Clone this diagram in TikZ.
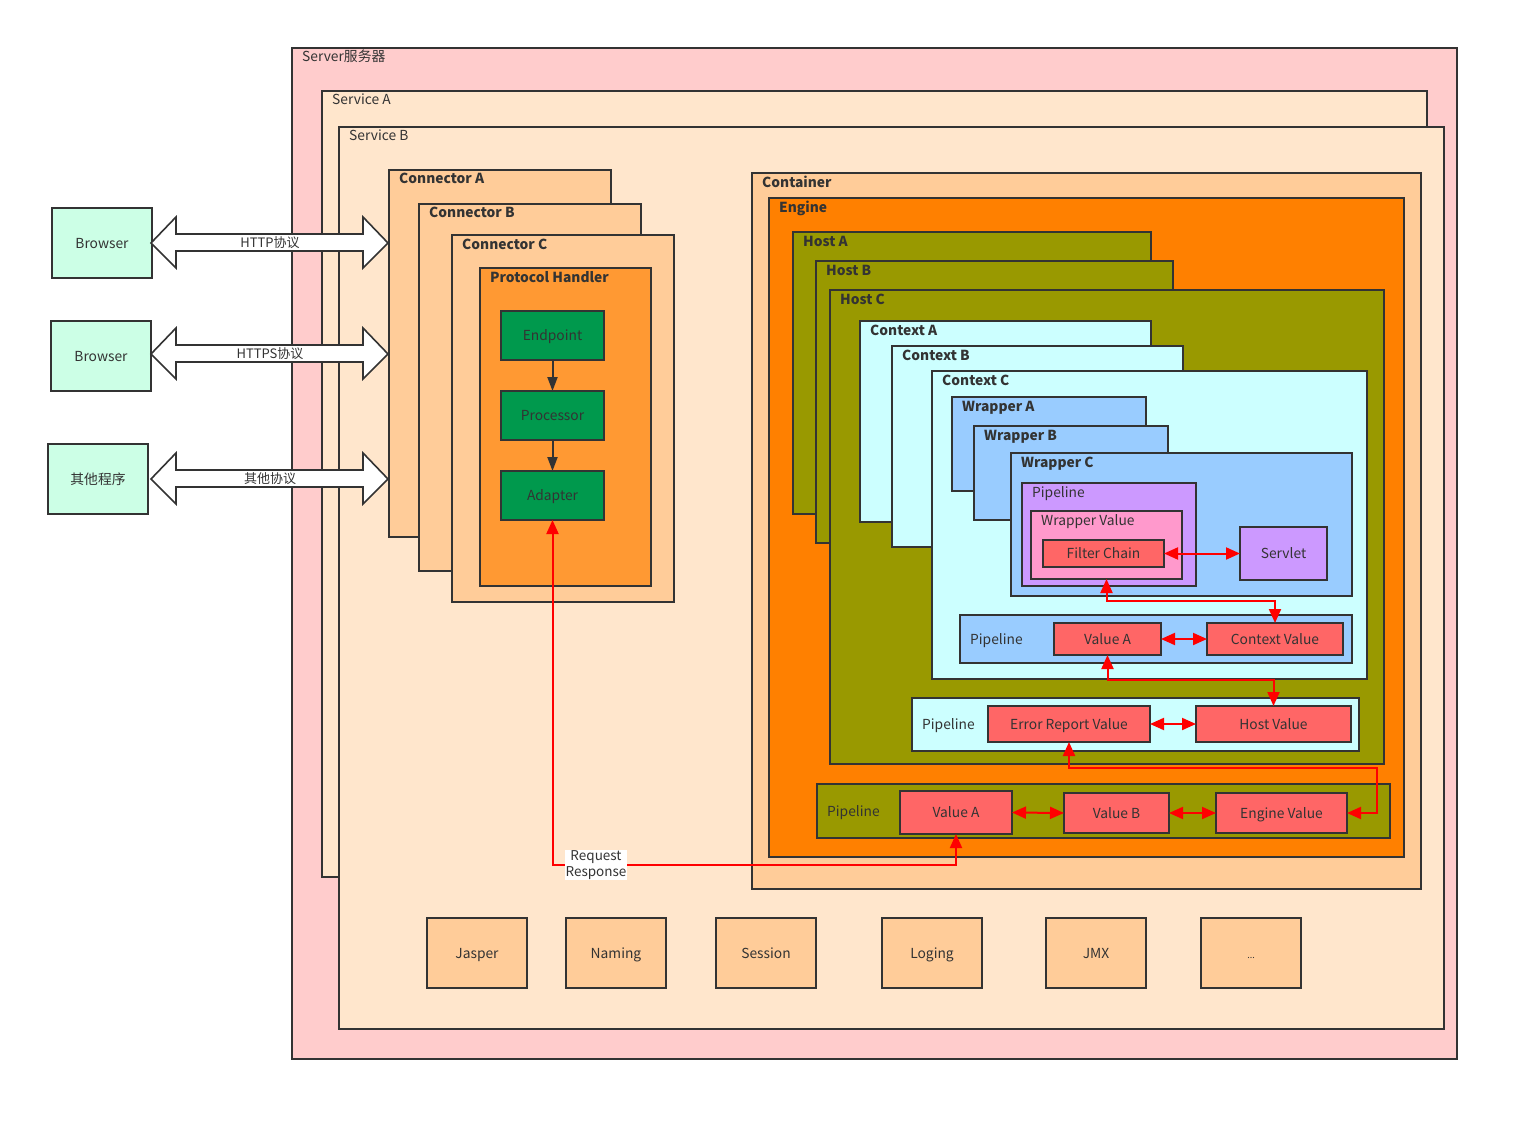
\documentclass[tikz,border=0pt]{standalone}
\usepackage{fontspec}
\setmainfont{Noto Sans CJK SC}
\usetikzlibrary{arrows.meta}
\definecolor{dk}{HTML}{333333}
\definecolor{cServer}{HTML}{FFCCCC}
\definecolor{cService}{HTML}{FFE6CC}
\definecolor{cConn}{HTML}{FFCC99}
\definecolor{cProto}{HTML}{FF9933}
\definecolor{cGreen}{HTML}{00994D}
\definecolor{cBrowser}{HTML}{CCFFE6}
\definecolor{cEngine}{HTML}{FF8000}
\definecolor{cHost}{HTML}{999900}
\definecolor{cCtx}{HTML}{CCFFFF}
\definecolor{cWrap}{HTML}{99CCFF}
\definecolor{cPurple}{HTML}{CC99FF}
\definecolor{cPink}{HTML}{FF99CC}
\definecolor{cRed}{HTML}{FF6666}
\definecolor{cLine}{HTML}{FF0000}
\tikzset{
  frame/.style={draw=dk,line width=1.9pt,inner sep=0pt,outer sep=0pt},
  nrm/.style={font=\fontsize{13.8}{16}\selectfont,text=dk,inner sep=0pt},
  bld/.style={font=\fontsize{13.8}{16}\selectfont\bfseries,text=dk,inner sep=0pt},
  ctr/.style={font=\fontsize{13.8}{16}\selectfont,text=dk,text height=10pt,text depth=0pt},
  redarr/.style={draw=cLine,line width=2pt,{Triangle[length=14pt,width=12pt]}-{Triangle[length=14pt,width=12pt]}},
  grayarr/.style={draw=dk,line width=2pt,-{Triangle[length=14pt,width=10pt]}},
  bigarr/.style={draw=dk,line width=1.6pt,fill=white,line join=miter},
}
% name, fill, x1, y1, x2, y2, label style, label
\newcommand\myframe[8]{%
  \node[frame,fill=#2,anchor=north west,minimum width={#5-#3},minimum height={#6-#4}] (#1) at (#3,#4) {};
  \node[#7,anchor=base west] (#1-t) at ([xshift=10pt,yshift=-14pt]#1.north west) {#8};}
% name, fill, x1, y1, x2, y2, text
\newcommand\mybox[7]{%
  \node[frame,ctr,fill=#2,anchor=north west,minimum width={#5-#3},minimum height={#6-#4}] (#1) at (#3,#4) {#7};}
% pipeline with left centred label
\newcommand\mypipe[6]{%
  \node[frame,fill=#2,anchor=north west,minimum width={#5-#3},minimum height={#6-#4}] (#1) at (#3,#4) {};
  \node[nrm,anchor=west,text height=10pt,text depth=0pt] (#1-t) at ([xshift=10pt]#1.west) {Pipeline};}
\begin{document}
\begin{tikzpicture}[x=1pt,y=-1pt]
\useasboundingbox[fill=white] (0,0) rectangle (1519,1121);
% outer
\myframe{server}{cServer}{292}{48}{1457}{1059}{nrm}{Server服务器}
\myframe{svA}{cService}{322}{91}{1427}{877}{nrm}{Service A}
\myframe{svB}{cService}{339}{127}{1444}{1029}{nrm}{Service B}
% browsers
\mybox{b1}{cBrowser}{52}{208}{152}{278}{Browser}
\mybox{b2}{cBrowser}{51}{321}{151}{391}{Browser}
\mybox{b3}{cBrowser}{48}{444}{148}{514}{其他程序}
% big double arrows
\foreach \yy/\nm/\tx in {243/a1/HTTP协议,354/a2/HTTPS协议,479/a3/其他协议}{
  \coordinate (\nm-l) at (151,\yy);
  \draw[bigarr] (\nm-l) -- ++(25,-26) -- ++(0,17) -- ++(187,0) -- ++(0,-17) -- ++(25,26)
     -- ++(-25,25) -- ++(0,-17) -- ++(-187,0) -- ++(0,17) -- cycle;
  \node[font=\fontsize{13}{15}\selectfont,text=dk,inner sep=0pt] (\nm-t) at (270,\yy) {\tx};
}
% connectors
\myframe{cA}{cConn}{389}{170}{611}{537}{bld}{Connector A}
\myframe{cB}{cConn}{419}{204}{641}{571}{bld}{Connector B}
\myframe{cC}{cConn}{452}{235}{674}{602}{bld}{Connector C}
\myframe{ph}{cProto}{480}{268}{651}{586}{bld}{Protocol Handler}
\mybox{ep}{cGreen}{501}{311}{604}{360}{Endpoint}
\mybox{pr}{cGreen}{501}{391}{604}{440}{Processor}
\mybox{ad}{cGreen}{501}{471}{604}{520}{Adapter}
\draw[grayarr] (ep.south) -- (pr.north);
\draw[grayarr] (pr.south) -- (ad.north);
% container
\myframe{cont}{cConn}{752}{173}{1421}{889}{bld}{Container}
\myframe{eng}{cEngine}{769}{198}{1404}{857}{bld}{Engine}
\myframe{hA}{cHost}{793}{232}{1151}{514}{bld}{Host A}
\myframe{hB}{cHost}{816}{261}{1173}{543}{bld}{Host B}
\myframe{hC}{cHost}{830}{290}{1384}{764}{bld}{Host C}
\myframe{xA}{cCtx}{860}{321}{1151}{522}{bld}{Context A}
\myframe{xB}{cCtx}{892}{346}{1183}{547}{bld}{Context B}
\myframe{xC}{cCtx}{932}{371}{1367}{679}{bld}{Context C}
\myframe{wA}{cWrap}{952}{397}{1146}{491}{bld}{Wrapper A}
\myframe{wB}{cWrap}{974}{426}{1168}{520}{bld}{Wrapper B}
\myframe{wC}{cWrap}{1011}{453}{1352}{596}{bld}{Wrapper C}
\myframe{wp}{cPurple}{1022}{483}{1196}{586}{nrm}{Pipeline}
\myframe{wv}{cPink}{1031}{511}{1182}{579}{nrm}{Wrapper Value}
\mybox{fc}{cRed}{1043}{540}{1164}{567}{Filter Chain}
\mybox{sv}{cPurple}{1240}{527}{1327}{580}{Servlet}
% context pipeline
\mypipe{xp}{cWrap}{960}{615}{1352}{663}
\mybox{va1}{cRed}{1054}{623}{1161}{655}{Value A}
\mybox{cv}{cRed}{1207}{623}{1343}{655}{Context Value}
% host pipeline
\mypipe{hp}{cCtx}{912}{698}{1359}{751}
\mybox{erv}{cRed}{988}{706}{1150}{742}{Error Report Value}
\mybox{hv}{cRed}{1196}{706}{1351}{742}{Host Value}
% engine pipeline
\mypipe{ep2}{cHost}{817}{784}{1390}{838}
\mybox{vae}{cRed}{900}{791}{1012}{834}{Value A}
\mybox{vb}{cRed}{1064}{793}{1169}{833}{Value B}
\mybox{ev}{cRed}{1216}{793}{1347}{833}{Engine Value}
% bottom components
\mybox{jasper}{cConn}{427}{918}{527}{988}{Jasper}
\mybox{naming}{cConn}{566}{918}{666}{988}{Naming}
\mybox{session}{cConn}{716}{918}{816}{988}{Session}
\mybox{loging}{cConn}{882}{918}{982}{988}{Loging}
\mybox{jmx}{cConn}{1046}{918}{1146}{988}{JMX}
\mybox{etc}{cConn}{1201}{918}{1301}{988}{\fontsize{9}{10}\selectfont ...}
% red connectors
\draw[redarr] (fc.east) -- (sv.west);
\draw[redarr] (wv.south) -- ++(0,22) -| (cv.north);
\draw[redarr] (va1.east) -- (cv.west);
\draw[redarr] (va1.south) -- ++(0,25) -| (hv.north);
\draw[redarr] (erv.east) -- (hv.west);
\coordinate (c1) at (1377,768);
\draw[redarr] (erv.south) |- (c1) |- (ev.east);
\draw[redarr] (vae.east) -- (vb.west);
\draw[redarr] (vb.east) -- (ev.west);
\draw[redarr] (ad.south) |- (vae.south |- 0,865) -- (vae.south);
\node[fill=white,inner sep=1pt,align=center,font=\fontsize{13.5}{16}\selectfont,text=dk] (rr) at (596,865) {Request\\Response};
\end{tikzpicture}
\end{document}
